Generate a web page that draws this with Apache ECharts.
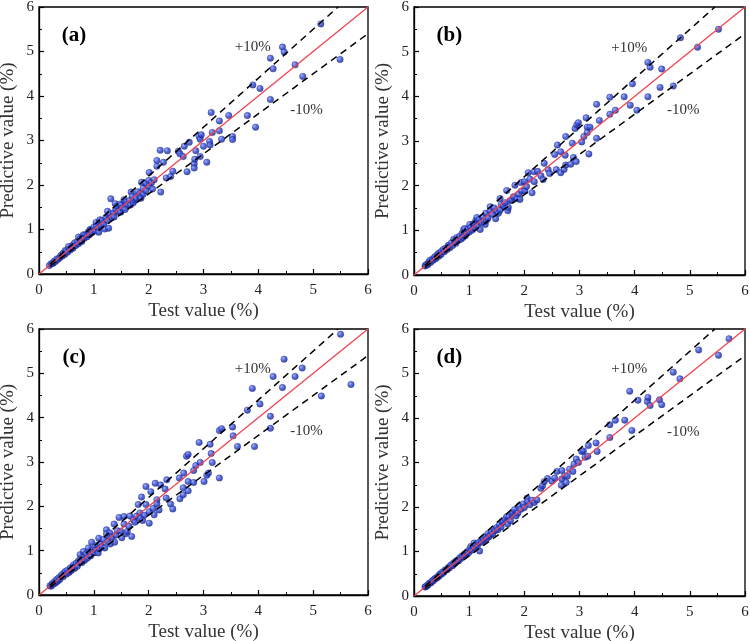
<!DOCTYPE html>
<html><head><meta charset="utf-8">
<script src="https://cdn.jsdelivr.net/npm/echarts@6/dist/echarts.min.js"></script>
<style>html,body{margin:0;padding:0;background:#fff}#c{width:750px;height:641px}</style>
</head><body><div id="c"></div>
<script>
// Panel data: [test value, predictive value]
var panelA = [
[0.19,0.19],[0.22,0.23],[0.25,0.24],[0.26,0.25],[0.28,0.29],[0.30,0.28],[0.33,0.34],[0.35,0.33],[0.38,0.37],[0.40,0.42],[0.42,0.40],[0.44,0.46],[0.45,0.47],[0.47,0.44],[0.48,0.53],[0.50,0.52],[0.52,0.49],[0.54,0.62],[0.55,0.57],[0.57,0.54],[0.60,0.63],[0.62,0.58],[0.63,0.66],[0.65,0.70],[0.67,0.64],[0.70,0.73],[0.72,0.68],[0.72,0.83],[0.75,0.79],[0.77,0.74],[0.78,0.73],[0.80,0.85],[0.81,0.88],[0.82,0.80],[0.85,0.88],[0.87,0.83],[0.88,0.88],[0.90,0.95],[0.92,0.88],[0.93,1.00],[0.95,1.00],[0.97,0.93],[1.00,1.05],[1.02,0.97],[1.04,1.16],[1.05,1.07],[1.08,1.03],[1.09,0.94],[1.10,1.17],[1.11,1.22],[1.13,1.08],[1.15,1.20],[1.18,1.12],[1.20,1.01],[1.22,1.27],[1.25,1.41],[1.25,1.20],[1.27,1.33],[1.27,1.03],[1.30,1.35],[1.31,1.69],[1.33,1.27],[1.36,1.37],[1.37,1.28],[1.39,1.58],[1.40,1.45],[1.42,1.52],[1.45,1.40],[1.48,1.57],[1.49,1.39],[1.50,1.55],[1.52,1.48],[1.55,1.67],[1.57,1.45],[1.60,1.62],[1.62,1.56],[1.65,1.65],[1.67,1.55],[1.68,1.84],[1.70,1.75],[1.72,1.60],[1.75,1.66],[1.77,1.72],[1.78,1.69],[1.80,1.85],[1.84,1.81],[1.84,1.73],[1.86,1.70],[1.87,2.06],[1.90,1.79],[1.90,1.93],[1.94,2.04],[1.95,1.87],[2.00,2.10],[2.01,1.98],[2.01,2.28],[2.05,2.05],[2.07,1.91],[2.10,2.12],[2.15,2.55],[2.15,2.42],[2.21,2.78],[2.22,1.84],[2.27,2.51],[2.32,2.16],[2.34,2.77],[2.40,2.19],[2.44,2.31],[2.54,2.76],[2.57,2.70],[2.63,2.64],[2.65,2.87],[2.70,2.30],[2.74,2.96],[2.83,2.48],[2.83,2.38],[2.84,2.58],[2.86,2.77],[2.92,3.09],[2.94,3.03],[2.94,2.64],[2.96,3.13],[3.00,2.87],[3.06,2.51],[3.11,2.98],[3.12,2.90],[3.14,3.63],[3.16,3.18],[3.29,3.44],[3.29,3.22],[3.33,3.03],[3.46,3.56],[3.53,3.09],[3.53,3.02],[3.80,3.56],[3.90,4.25],[3.95,3.30],[4.03,4.17],[4.22,4.85],[4.22,3.92],[4.27,4.61],[4.44,5.10],[4.47,4.99],[4.67,4.70],[4.81,4.44],[5.14,5.62],[5.49,4.82]
];
var panelB = [
[0.20,0.20],[0.21,0.22],[0.23,0.24],[0.25,0.23],[0.27,0.29],[0.29,0.33],[0.30,0.28],[0.33,0.35],[0.35,0.33],[0.37,0.39],[0.38,0.41],[0.40,0.37],[0.42,0.45],[0.44,0.48],[0.45,0.42],[0.47,0.50],[0.49,0.46],[0.50,0.53],[0.53,0.57],[0.55,0.52],[0.57,0.60],[0.60,0.57],[0.62,0.66],[0.63,0.66],[0.65,0.61],[0.68,0.72],[0.70,0.66],[0.72,0.80],[0.74,0.76],[0.76,0.71],[0.78,0.84],[0.80,0.77],[0.83,0.87],[0.85,0.80],[0.87,0.93],[0.89,0.84],[0.90,1.02],[0.92,1.04],[0.93,0.88],[0.95,0.93],[0.97,1.02],[1.00,0.96],[1.01,1.13],[1.03,1.06],[1.05,1.00],[1.07,1.14],[1.09,1.15],[1.10,1.05],[1.12,1.22],[1.14,1.29],[1.15,1.10],[1.18,1.24],[1.20,1.02],[1.22,1.17],[1.25,1.30],[1.27,1.19],[1.29,1.13],[1.30,1.38],[1.31,1.22],[1.34,1.27],[1.38,1.53],[1.38,1.44],[1.42,1.36],[1.45,1.50],[1.48,1.26],[1.50,1.43],[1.53,1.38],[1.56,1.71],[1.56,1.45],[1.58,1.58],[1.62,1.55],[1.65,1.62],[1.68,1.89],[1.70,1.44],[1.71,1.51],[1.74,1.66],[1.77,1.68],[1.80,1.75],[1.83,2.01],[1.87,1.71],[1.90,1.81],[1.92,1.69],[1.94,2.07],[1.95,1.88],[2.00,2.09],[2.01,1.88],[2.04,1.98],[2.07,2.29],[2.10,2.15],[2.14,1.84],[2.18,2.31],[2.18,2.09],[2.24,2.32],[2.30,2.22],[2.34,2.14],[2.36,2.50],[2.43,2.36],[2.46,2.27],[2.55,2.70],[2.58,2.36],[2.60,2.91],[2.66,2.76],[2.66,2.29],[2.72,2.36],[2.74,2.68],[2.75,3.10],[2.75,2.46],[2.84,2.48],[2.87,2.95],[2.89,2.63],[2.92,3.28],[2.94,2.54],[2.95,3.36],[2.98,3.41],[3.04,2.98],[3.08,3.10],[3.12,3.52],[3.14,3.31],[3.14,3.19],[3.17,2.71],[3.19,3.31],[3.31,3.82],[3.31,3.06],[3.36,3.46],[3.55,3.98],[3.55,3.60],[3.65,3.69],[3.81,3.99],[3.92,3.80],[3.96,4.28],[4.04,3.69],[4.24,4.76],[4.24,3.99],[4.28,4.65],[4.46,4.20],[4.49,4.61],[4.70,4.23],[4.83,5.31],[5.14,5.10],[5.52,5.50]
];
var panelC = [
[0.20,0.21],[0.22,0.20],[0.24,0.26],[0.26,0.24],[0.28,0.30],[0.30,0.27],[0.32,0.35],[0.34,0.31],[0.36,0.39],[0.38,0.35],[0.40,0.43],[0.42,0.46],[0.44,0.41],[0.46,0.50],[0.48,0.53],[0.50,0.47],[0.52,0.56],[0.55,0.51],[0.57,0.61],[0.59,0.55],[0.61,0.63],[0.63,0.68],[0.65,0.60],[0.68,0.72],[0.70,0.65],[0.72,0.77],[0.75,0.91],[0.76,0.80],[0.78,0.73],[0.80,0.85],[0.81,0.98],[0.83,0.78],[0.86,0.92],[0.88,0.83],[0.90,1.06],[0.92,0.97],[0.94,0.88],[0.96,1.19],[0.97,1.02],[1.00,0.95],[1.02,1.08],[1.04,1.02],[1.06,1.12],[1.08,0.95],[1.09,1.28],[1.10,1.04],[1.12,1.15],[1.15,1.09],[1.18,1.25],[1.20,1.06],[1.23,1.47],[1.23,1.38],[1.25,1.20],[1.27,1.33],[1.29,1.40],[1.30,1.15],[1.33,1.30],[1.37,1.60],[1.38,1.19],[1.40,1.35],[1.43,1.45],[1.46,1.75],[1.49,1.44],[1.51,1.29],[1.55,1.60],[1.55,1.77],[1.58,1.38],[1.61,1.43],[1.64,1.55],[1.66,1.78],[1.69,1.32],[1.72,1.70],[1.75,1.64],[1.78,1.78],[1.81,2.04],[1.84,1.85],[1.85,1.73],[1.87,2.21],[1.89,1.68],[1.92,1.80],[1.95,2.04],[1.95,2.45],[2.01,1.88],[2.01,1.62],[2.04,2.33],[2.08,1.95],[2.10,1.81],[2.12,2.52],[2.15,2.15],[2.15,2.06],[2.19,1.92],[2.22,2.48],[2.30,2.39],[2.32,2.19],[2.33,2.60],[2.40,2.05],[2.44,1.94],[2.56,2.64],[2.57,2.17],[2.63,2.42],[2.63,2.26],[2.64,2.75],[2.69,3.13],[2.72,3.17],[2.72,2.56],[2.72,2.35],[2.82,2.81],[2.82,2.54],[2.86,2.92],[2.92,3.44],[2.94,2.99],[3.01,2.56],[3.06,2.70],[3.09,2.75],[3.12,3.40],[3.14,3.19],[3.16,2.99],[3.29,3.71],[3.29,2.64],[3.33,3.75],[3.53,3.79],[3.54,3.59],[3.62,3.35],[3.80,4.17],[3.89,4.66],[3.93,3.35],[4.03,4.31],[4.22,4.03],[4.22,3.76],[4.27,4.93],[4.44,4.68],[4.47,5.32],[4.67,4.93],[4.80,5.12],[5.15,4.49],[5.50,5.88],[5.69,4.75]
];
var panelD = [
[0.20,0.20],[0.21,0.21],[0.23,0.23],[0.25,0.24],[0.27,0.28],[0.29,0.29],[0.31,0.30],[0.33,0.34],[0.35,0.34],[0.37,0.38],[0.39,0.40],[0.41,0.40],[0.43,0.44],[0.45,0.44],[0.47,0.49],[0.48,0.50],[0.50,0.49],[0.52,0.54],[0.54,0.53],[0.56,0.58],[0.58,0.59],[0.60,0.59],[0.62,0.64],[0.64,0.63],[0.66,0.68],[0.68,0.70],[0.70,0.68],[0.72,0.75],[0.74,0.73],[0.76,0.78],[0.79,0.81],[0.81,0.79],[0.83,0.86],[0.85,0.84],[0.87,0.90],[0.89,0.88],[0.91,0.94],[0.93,0.92],[0.95,0.98],[0.97,1.00],[0.99,0.97],[1.01,1.05],[1.03,1.11],[1.05,1.03],[1.07,1.10],[1.09,1.19],[1.10,1.08],[1.12,1.15],[1.15,1.13],[1.17,1.20],[1.19,1.01],[1.21,1.24],[1.23,1.21],[1.25,1.29],[1.27,1.26],[1.30,1.33],[1.32,1.29],[1.34,1.40],[1.36,1.33],[1.38,1.37],[1.40,1.44],[1.43,1.40],[1.45,1.50],[1.47,1.47],[1.50,1.54],[1.52,1.49],[1.55,1.60],[1.58,1.55],[1.60,1.66],[1.62,1.67],[1.65,1.72],[1.68,1.78],[1.70,1.62],[1.72,1.78],[1.75,1.69],[1.78,1.83],[1.79,1.88],[1.82,1.94],[1.85,1.80],[1.88,1.86],[1.91,2.03],[1.94,1.95],[1.98,2.07],[2.00,1.99],[2.05,2.20],[2.06,2.12],[2.10,2.05],[2.14,2.15],[2.18,2.10],[2.23,2.16],[2.30,2.42],[2.33,2.48],[2.36,2.57],[2.42,2.64],[2.50,2.58],[2.55,2.65],[2.59,2.80],[2.67,2.49],[2.68,2.63],[2.68,2.82],[2.73,2.70],[2.76,2.55],[2.78,2.69],[2.82,2.85],[2.88,2.80],[2.90,2.96],[2.94,3.08],[2.98,3.00],[3.04,3.25],[3.07,3.26],[3.10,3.12],[3.15,3.14],[3.16,3.38],[3.30,3.44],[3.32,3.25],[3.55,3.85],[3.55,3.56],[3.65,3.95],[3.82,3.95],[3.91,4.60],[3.95,3.72],[4.06,4.40],[4.23,4.37],[4.24,4.46],[4.28,4.28],[4.45,4.41],[4.49,4.30],[4.70,5.03],[4.82,4.88],[5.16,5.53],[5.52,5.41],[5.71,5.78]
];
var panelNames = ['(a)', '(b)', '(c)', '(d)'];
var axisTicks = [0, 1, 2, 3, 4, 5, 6];
var upperFactor = 1.1, lowerFactor = 0.9;
var upperText = '+10%', lowerText = '-10%';
var xTitle = 'Test value (%)', yTitle = 'Predictive value (%)';

var chart = echarts.init(document.getElementById('c'));
var panels = [panelA, panelB, panelC, panelD];
var grids = [
  {left: 39, top: 7, width: 329, height: 267},
  {left: 414, top: 7, width: 331, height: 268},
  {left: 39, top: 329, width: 329, height: 266},
  {left: 414, top: 329, width: 331, height: 267}
];
var serif = 'Liberation Serif, Times New Roman, serif';
var xAxes = [], yAxes = [], series = [];
function axis(isX, i) {
  return {
    type: 'value', gridIndex: i, min: axisTicks[0], max: axisTicks[axisTicks.length - 1], interval: 1,
    name: isX ? xTitle : yTitle, nameLocation: 'middle', nameGap: isX ? 28 : 21,
    nameTextStyle: {fontFamily: serif, fontSize: 19, color: '#333'},
    axisLine: {show: true, onZero: false, lineStyle: {color: '#000', width: 1.3}},
    axisTick: {show: true, inside: true, length: 5, lineStyle: {color: '#000', width: 1.2}},
    minorTick: {show: true, splitNumber: 2, length: 3, lineStyle: {color: '#000', width: 1}},
    axisLabel: {fontFamily: serif, fontSize: 15, color: '#222', margin: isX ? 9 : 5},
    splitLine: {show: false}
  };
}
var symColor = {type: 'radial', x: 0.35, y: 0.35, r: 0.75,
  colorStops: [{offset: 0, color: '#8c9cff'}, {offset: 0.45, color: '#2c44d0'}, {offset: 1, color: '#121d80'}]};
for (var i = 0; i < 4; i++) {
  xAxes.push(axis(true, i));
  yAxes.push(axis(false, i));
  var mx = axisTicks[axisTicks.length - 1];
  series.push({
    type: 'scatter', xAxisIndex: i, yAxisIndex: i, data: panels[i], symbolSize: 6.5, z: 2,
    itemStyle: {color: symColor, borderColor: '#16237f', borderWidth: 0.4}
  });
  series.push({
    type: 'line', xAxisIndex: i, yAxisIndex: i, data: [[0, 0], [mx, mx]], symbol: 'none', z: 3,
    lineStyle: {color: '#f2424f', width: 1.3}
  });
  series.push({
    type: 'line', xAxisIndex: i, yAxisIndex: i, data: [[0.2, 0.2 * upperFactor], [mx / upperFactor, mx]], symbol: 'none', z: 3,
    lineStyle: {color: '#000', width: 1.5, type: [7, 5]},
    markPoint: {symbol: 'circle', symbolSize: 0, silent: true,
      data: [
        {coord: [3.9, 5.09], value: upperText, label: {fontSize: 15, color: '#333', fontFamily: serif}},
        {coord: [0.64, 5.36], value: panelNames[i], label: {fontSize: 21, fontWeight: 'bold', color: '#000', fontFamily: serif}}
      ],
      label: {show: true, position: 'inside', formatter: function (p) { return p.value; }}
    }
  });
  series.push({
    type: 'line', xAxisIndex: i, yAxisIndex: i, data: [[0.2, 0.2 * lowerFactor], [mx, mx * lowerFactor]], symbol: 'none', z: 3,
    lineStyle: {color: '#000', width: 1.5, type: [7, 5]},
    markPoint: {symbol: 'circle', symbolSize: 0, silent: true,
      data: [{coord: [4.88, 3.69], value: lowerText}],
      label: {show: true, position: 'inside', fontSize: 15, color: '#333', fontFamily: serif, formatter: function (p) { return p.value; }}
    }
  });
}
grids.forEach(function (g) {
  g.show = true; g.borderColor = '#000'; g.borderWidth = 1.3; g.backgroundColor = 'transparent';
  g.containLabel = false; g.outerBoundsMode = 'none';
});
chart.setOption({
  animation: false, backgroundColor: '#fff',
  grid: grids, xAxis: xAxes, yAxis: yAxes, series: series
});
</script></body></html>
